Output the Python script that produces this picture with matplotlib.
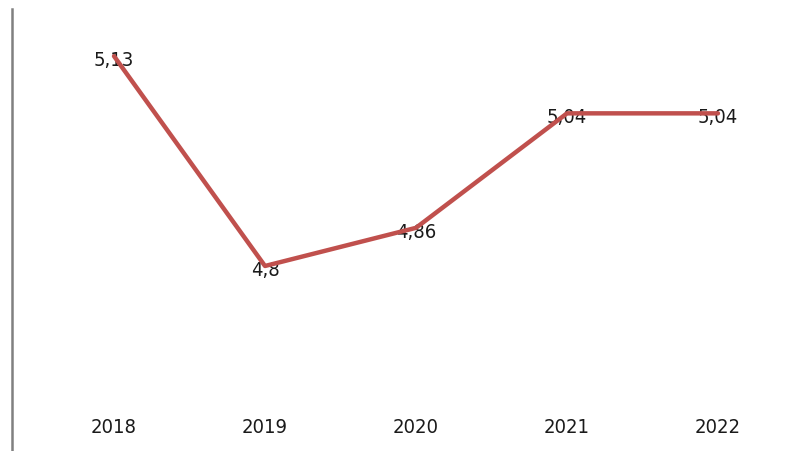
"""
Line chart: values by year 2018-2022
"""
import matplotlib.pyplot as plt

years = ['2018', '2019', '2020', '2021', '2022']
values = [5.13, 4.80, 4.86, 5.04, 5.04]
labels = ['5,13', '4,8', '4,86', '5,04', '5,04']

plt.rcParams['font.family'] = ['DejaVu Sans']
plt.rcParams['font.stretch'] = 'condensed'

fig = plt.figure(figsize=(8.06, 4.52), dpi=100)
ax = fig.add_axes([0, 0, 1, 1])

x = list(range(len(years)))
ax.plot(x, values, color='#C0504D', linewidth=3.2, solid_capstyle='round',
        solid_joinstyle='round', zorder=3)

for xi, v, lab in zip(x, values, labels):
    ax.text(xi, v - 0.005, lab, ha='center', va='center', fontsize=14.5,
            color='#1a1a1a', zorder=2)

# category labels below the plot
ax.set_xlim(-0.755, 4.583)
ax.set_ylim(4.5091, 5.2198)
for xi, yr in zip(x, years):
    ax.text(xi, 4.548, yr, ha='center', va='center', fontsize=14.5,
            color='#1a1a1a')

ax.axis('off')

# left axis line
fig.add_artist(plt.Line2D([12 / 806, 12 / 806], [0, 1 - 10 / 452],
                          color='#808080', linewidth=1.8))

fig.savefig('out.png', dpi=100)
